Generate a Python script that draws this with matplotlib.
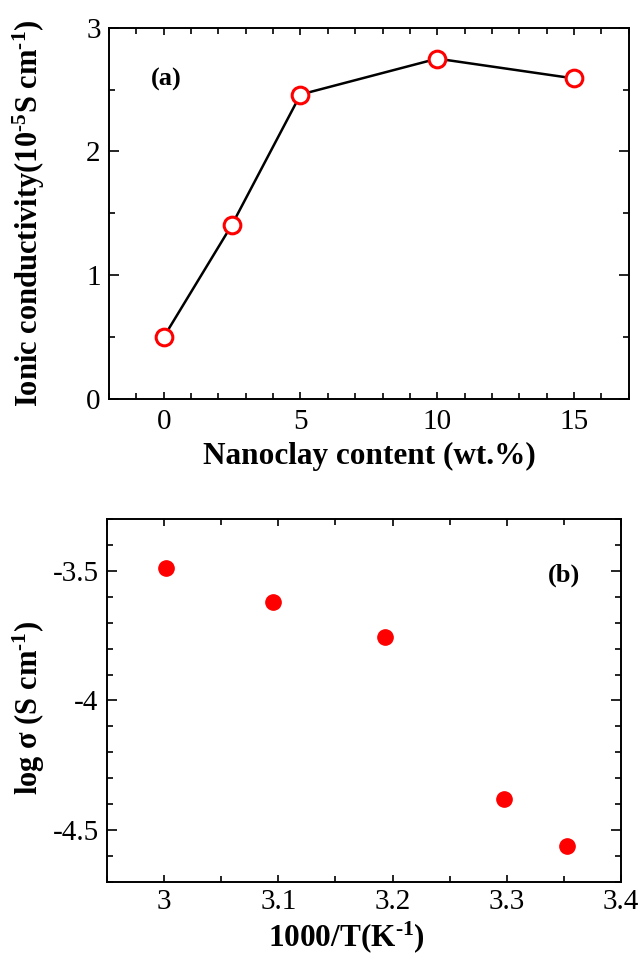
import matplotlib
matplotlib.use("Agg")
import matplotlib.pyplot as plt
from matplotlib.ticker import MultipleLocator

plt.rcParams['font.family'] = ['Liberation Serif', 'DejaVu Serif']
plt.rcParams['mathtext.fontset'] = 'custom'
plt.rcParams['mathtext.rm'] = 'Liberation Serif:bold'
plt.rcParams['mathtext.bf'] = 'Liberation Serif:bold'
plt.rcParams['mathtext.it'] = 'Liberation Serif:bold'
plt.rcParams['axes.unicode_minus'] = False

# (a) ionic conductivity vs nanoclay content
clay_wt = [0, 2.5, 5, 10, 15]
conductivity = [0.50, 1.41, 2.46, 2.75, 2.59]

# (b) log sigma vs 1000/T
inv_temp = [3.002, 3.095, 3.193, 3.298, 3.353]
log_sigma = [-3.49, -3.62, -3.757, -4.378, -4.559]

fig = plt.figure(figsize=(6.41, 9.65), dpi=100)
ax1 = fig.add_axes([0.170, 0.5865, 0.811, 0.3848])
ax2 = fig.add_axes([0.1669, 0.0857, 0.8019, 0.3768])

ax1.plot(clay_wt, conductivity, color='black', lw=1.8, marker='o', ms=12,
         mfc='white', mec='red', mew=2.2, zorder=3)
ax1.set_xlim(-2, 17)
ax1.set_ylim(0, 3)
ax1.xaxis.set_major_locator(MultipleLocator(5))
ax1.xaxis.set_minor_locator(MultipleLocator(1))
ax1.yaxis.set_major_locator(MultipleLocator(1))
ax1.yaxis.set_minor_locator(MultipleLocator(0.5))
ax1.set_xlabel('Nanoclay content (wt.%)', fontsize=22.5, fontweight='bold', labelpad=5)
ax1.set_ylabel(r'Ionic conductivity(10$^{\text{-}5}$S cm$^{\text{-}1}$)', fontsize=22,
               fontweight='bold')
ax1.yaxis.set_label_coords(-0.119, 0.5)
ax1.text(0.1, 2.58, '(a)', fontsize=19, fontweight='bold', ha='center', va='center')

ax2.plot(inv_temp, log_sigma, linestyle='none', marker='o', ms=11, color='red', mec='red')
ax2.set_xlim(2.95, 3.4)
ax2.set_ylim(-4.7, -3.3)
ax2.xaxis.set_major_locator(MultipleLocator(0.1))
ax2.xaxis.set_minor_locator(MultipleLocator(0.05))
ax2.yaxis.set_major_locator(MultipleLocator(0.5))
ax2.yaxis.set_minor_locator(MultipleLocator(0.1))
ax2.xaxis.set_major_formatter(plt.FuncFormatter(lambda v, p: ('%.1f' % v).rstrip('0').rstrip('.')))
ax2.yaxis.set_major_formatter(plt.FuncFormatter(lambda v, p: ('%.1f' % v).rstrip('0').rstrip('.')))
ax2.set_xlabel(r'1000/T(K$^{\text{-}1}$)', fontsize=22.5, fontweight='bold')
ax2.set_ylabel(r'log σ (S cm$^{\text{-}1}$)', fontsize=22, fontweight='bold')
ax2.xaxis.set_label_coords(0.465, -0.102)
ax2.yaxis.set_label_coords(-0.117, 0.48)
ax2.text(3.3505, -3.518, '(b)', fontsize=19, fontweight='bold', ha='center', va='center')

for ax in (ax1, ax2):
    for s in ax.spines.values():
        s.set_linewidth(1.4)
    ax.tick_params(which='both', direction='in', top=True, right=True, width=1.2,
                   labelsize=21)
    ax.tick_params(axis='y', which='both', pad=6)
    ax.tick_params(axis='x', which='major', length=5)
    ax.tick_params(axis='x', which='minor', length=4)
    ax.tick_params(axis='y', which='major', length=7.5)
    ax.tick_params(axis='y', which='minor', length=4)
ax1.tick_params(axis='x', which='both', pad=7)
ax2.tick_params(axis='x', which='both', pad=5)

fig.savefig('out.png', dpi=100)
